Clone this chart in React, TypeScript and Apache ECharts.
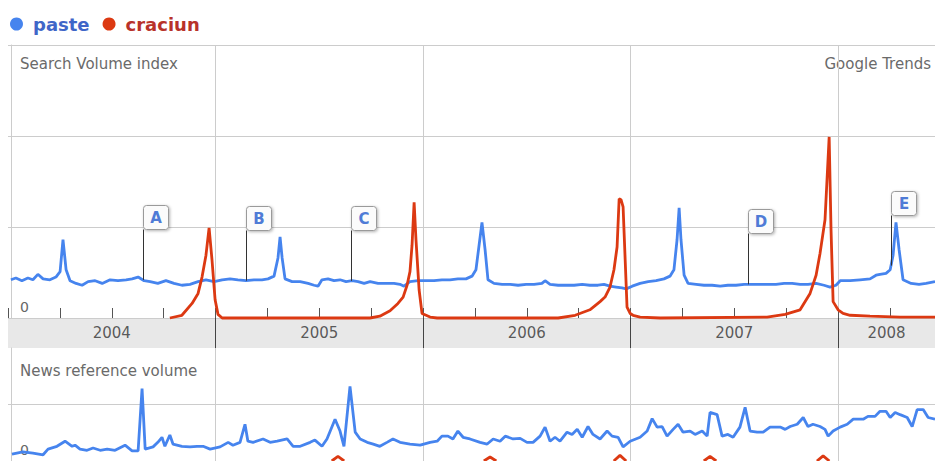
import { useEffect, useRef } from "react";
import * as echarts from "echarts";

const X_MIN = 2004;
const X_MAX = 2008.467;
const years = [2004, 2005, 2006, 2007, 2008];

// Search volume index readings [decimal year, index]
const paste: [number, number][] = [
  [2004.014,0.42],[2004.038,0.44],[2004.067,0.41],[2004.096,0.44],[2004.120,0.42],[2004.144,0.48],[2004.169,0.43],[2004.202,0.42],[2004.231,0.45],[2004.251,0.51],[2004.265,0.86],[2004.280,0.53],[2004.299,0.41],[2004.328,0.38],[2004.357,0.36],[2004.386,0.40],[2004.420,0.41],[2004.454,0.38],[2004.492,0.42],[2004.530,0.41],[2004.569,0.42],[2004.598,0.43],[2004.627,0.45],[2004.656,0.41],[2004.685,0.40],[2004.722,0.38],[2004.761,0.41],[2004.800,0.38],[2004.838,0.36],[2004.877,0.37],[2004.916,0.40],[2004.954,0.42],[2004.993,0.40],
  [2005.032,0.42],[2005.070,0.43],[2005.108,0.42],[2005.147,0.41],[2005.185,0.42],[2005.224,0.42],[2005.253,0.43],[2005.282,0.46],[2005.301,0.66],[2005.311,0.89],[2005.321,0.66],[2005.335,0.43],[2005.369,0.40],[2005.408,0.40],[2005.446,0.38],[2005.475,0.36],[2005.494,0.35],[2005.513,0.42],[2005.542,0.43],[2005.571,0.41],[2005.600,0.42],[2005.629,0.40],[2005.658,0.41],[2005.687,0.40],[2005.716,0.38],[2005.745,0.40],[2005.783,0.38],[2005.821,0.38],[2005.860,0.38],[2005.889,0.37],[2005.908,0.35],[2005.937,0.40],[2005.976,0.41],
  [2006.015,0.41],[2006.053,0.41],[2006.091,0.42],[2006.130,0.42],[2006.168,0.43],[2006.207,0.43],[2006.236,0.46],[2006.255,0.53],[2006.270,0.80],[2006.284,1.05],[2006.299,0.75],[2006.313,0.42],[2006.342,0.38],[2006.381,0.37],[2006.420,0.37],[2006.458,0.36],[2006.497,0.37],[2006.535,0.37],[2006.573,0.38],[2006.588,0.41],[2006.612,0.37],[2006.651,0.36],[2006.689,0.36],[2006.728,0.36],[2006.767,0.37],[2006.804,0.36],[2006.843,0.36],[2006.872,0.37],[2006.901,0.35],[2006.930,0.34],[2006.959,0.33],[2006.979,0.32],
  [2007.008,0.35],[2007.046,0.38],[2007.085,0.40],[2007.123,0.41],[2007.161,0.43],[2007.190,0.46],[2007.209,0.53],[2007.224,0.86],[2007.234,1.21],[2007.243,0.86],[2007.258,0.47],[2007.277,0.38],[2007.316,0.37],[2007.354,0.36],[2007.393,0.36],[2007.432,0.35],[2007.469,0.36],[2007.508,0.36],[2007.547,0.37],[2007.585,0.37],[2007.624,0.37],[2007.663,0.37],[2007.701,0.37],[2007.740,0.38],[2007.779,0.38],[2007.817,0.37],[2007.855,0.37],[2007.894,0.38],[2007.932,0.36],[2007.961,0.34],[2007.990,0.36],
  [2008.010,0.41],[2008.058,0.41],[2008.106,0.42],[2008.154,0.43],[2008.183,0.47],[2008.202,0.48],[2008.231,0.49],[2008.251,0.53],[2008.265,0.69],[2008.279,1.05],[2008.294,0.75],[2008.313,0.42],[2008.352,0.38],[2008.390,0.37],[2008.424,0.38],[2008.467,0.40],
];

const craciun: [number, number][] = [
  [2004.780,0.00],[2004.838,0.03],[2004.887,0.16],[2004.916,0.27],[2004.935,0.45],[2004.954,0.69],[2004.969,0.99],[2004.983,0.64],[2004.998,0.20],[2005.012,0.04],[2005.032,0.00],
  [2005.744,0.00],[2005.792,0.02],[2005.841,0.08],[2005.879,0.16],[2005.904,0.23],[2005.923,0.36],[2005.937,0.51],[2005.947,0.80],[2005.957,1.27],[2005.966,0.86],[2005.981,0.31],[2005.995,0.05],[2006.034,0.01],[2006.068,0.00],
  [2006.651,0.00],[2006.733,0.03],[2006.804,0.09],[2006.853,0.18],[2006.877,0.23],[2006.901,0.34],[2006.920,0.53],[2006.935,0.78],[2006.945,1.31],[2006.954,1.30],[2006.964,1.22],[2006.974,0.64],[2006.983,0.12],[2006.998,0.05],[2007.012,0.03],[2007.046,0.01],[2007.143,0.00],
  [2007.658,0.01],[2007.745,0.04],[2007.817,0.09],[2007.865,0.27],[2007.894,0.47],[2007.913,0.71],[2007.937,1.08],[2007.957,1.99],[2007.966,0.97],[2007.976,0.18],[2008.000,0.09],[2008.024,0.05],[2008.058,0.03],[2008.154,0.02],[2008.299,0.01],[2008.467,0.01],
];

// News reference volume readings
const newsPaste: [number, number][] = [
  [2004.019,0.12],[2004.072,0.16],[2004.120,0.14],[2004.169,0.11],[2004.193,0.21],[2004.236,0.26],[2004.275,0.35],[2004.309,0.26],[2004.323,0.28],[2004.347,0.21],[2004.381,0.19],[2004.410,0.23],[2004.444,0.19],[2004.478,0.21],[2004.516,0.19],[2004.564,0.28],[2004.598,0.18],[2004.627,0.18],[2004.646,1.28],[2004.661,0.21],[2004.699,0.25],[2004.722,0.33],[2004.742,0.42],[2004.756,0.26],[2004.780,0.46],[2004.795,0.30],[2004.838,0.26],[2004.877,0.25],[2004.911,0.26],[2004.940,0.26],[2004.974,0.21],
  [2005.022,0.25],[2005.061,0.33],[2005.084,0.28],[2005.118,0.33],[2005.142,0.65],[2005.156,0.35],[2005.181,0.33],[2005.229,0.39],[2005.263,0.33],[2005.297,0.35],[2005.345,0.39],[2005.374,0.26],[2005.408,0.26],[2005.456,0.33],[2005.479,0.37],[2005.513,0.26],[2005.537,0.39],[2005.576,0.74],[2005.600,0.53],[2005.619,0.26],[2005.648,1.32],[2005.673,0.51],[2005.697,0.39],[2005.731,0.33],[2005.760,0.30],[2005.792,0.26],[2005.826,0.33],[2005.855,0.39],[2005.889,0.33],[2005.937,0.30],[2005.986,0.28],
  [2006.034,0.33],[2006.068,0.35],[2006.091,0.44],[2006.120,0.44],[2006.144,0.39],[2006.168,0.53],[2006.193,0.42],[2006.226,0.39],[2006.275,0.33],[2006.309,0.30],[2006.338,0.39],[2006.371,0.35],[2006.396,0.44],[2006.434,0.39],[2006.468,0.40],[2006.501,0.33],[2006.530,0.33],[2006.564,0.44],[2006.588,0.60],[2006.612,0.35],[2006.636,0.42],[2006.660,0.35],[2006.694,0.51],[2006.718,0.47],[2006.743,0.56],[2006.767,0.42],[2006.795,0.61],[2006.819,0.47],[2006.853,0.39],[2006.887,0.53],[2006.911,0.44],[2006.940,0.42],[2006.964,0.25],[2006.998,0.35],
  [2007.046,0.42],[2007.080,0.53],[2007.104,0.75],[2007.128,0.60],[2007.152,0.61],[2007.176,0.44],[2007.205,0.56],[2007.229,0.65],[2007.253,0.51],[2007.287,0.53],[2007.311,0.47],[2007.345,0.53],[2007.369,0.44],[2007.383,0.86],[2007.417,0.82],[2007.441,0.44],[2007.469,0.47],[2007.494,0.42],[2007.527,0.60],[2007.552,0.95],[2007.576,0.53],[2007.610,0.51],[2007.639,0.51],[2007.672,0.60],[2007.721,0.60],[2007.745,0.56],[2007.769,0.61],[2007.803,0.65],[2007.832,0.77],[2007.855,0.61],[2007.879,0.65],[2007.913,0.61],[2007.937,0.56],[2007.952,0.44],[2007.976,0.53],
  [2008.010,0.60],[2008.044,0.65],[2008.073,0.74],[2008.121,0.74],[2008.144,0.79],[2008.178,0.79],[2008.202,0.88],[2008.231,0.88],[2008.251,0.77],[2008.275,0.86],[2008.299,0.82],[2008.333,0.77],[2008.357,0.61],[2008.381,0.91],[2008.410,0.91],[2008.434,0.77],[2008.467,0.74],
];

const newsCraciun: [number, number | null][] = [
  [2005.560,0],[2005.590,0.08],[2005.620,0],[2005.700,null],
  [2006.293,0],[2006.323,0.07],[2006.353,0],[2006.500,null],
  [2006.919,0],[2006.949,0.10],[2006.979,0],[2007.100,null],
  [2007.353,0],[2007.383,0.08],[2007.413,0],[2007.600,null],
  [2007.898,0],[2007.928,0.09],[2007.958,0],
];

const flagLetters = ["A", "B", "C", "D", "E"];
const flagDates = [2004.650, 2005.147, 2005.652, 2007.566, 2008.255];

const BLUE = "#4684ee";
const RED = "#dc3912";
const GRID = "#cccccc";
const TICK = "#555555";
const FONT = '"DejaVu Sans", Verdana, sans-serif';

function valueAt(series: [number, number][], t: number): number {
  for (let i = 1; i < series.length; i++) {
    const [x0, y0] = series[i - 1];
    const [x1, y1] = series[i];
    if (t >= x0 && t <= x1) return y0 + ((y1 - y0) * (t - x0)) / (x1 - x0);
  }
  return series[series.length - 1][1];
}

function buildOption(): any {
  const yearMid = years.map((y) => [
    (Math.max(y, X_MIN) + Math.min(y + 1, X_MAX)) / 2,
    0.5,
  ]);
  const flags = flagDates.map((t) => [t, valueAt(paste, t)]);

  const xBase = {
    type: "value",
    min: X_MIN,
    max: X_MAX,
    interval: 1,
    axisLabel: { show: false },
    axisLine: { show: false },
  };

  const zeroLabel = {
    inside: true,
    margin: 9,
    verticalAlign: "bottom",
    padding: [0, 0, 4, 0],
    color: "#666",
    fontSize: 14,
    fontFamily: FONT,
    formatter: (v: number) => (v === 0 ? "0" : ""),
  };

  return {
    animation: false,
    textStyle: { fontFamily: FONT },
    legend: {
      left: 5,
      top: 10,
      icon: "circle",
      itemWidth: 23,
      itemHeight: 13,
      itemGap: 13,
      selectedMode: false,
      textStyle: { fontFamily: FONT, fontWeight: "bold", fontSize: 18 },
      data: [
        { name: "paste", textStyle: { color: "#3f66c8" } },
        { name: "craciun", textStyle: { color: "#b8322a" } },
      ],
    },
    grid: [
      { left: 8, right: 0, top: 45, height: 273 },
      { left: 8, right: 0, top: 318, height: 30, show: true, backgroundColor: "#e8e8e8", borderWidth: 0 },
      { left: 8, right: 0, top: 348, height: 114 },
    ],
    xAxis: [
      {
        ...xBase,
        gridIndex: 0,
        position: "bottom",
        axisTick: { show: true, inside: true, length: 10, lineStyle: { color: TICK } },
        minorTick: { show: true, splitNumber: 4, length: 10, lineStyle: { color: TICK } },
        splitLine: { show: true, showMinLine: false, showMaxLine: false, lineStyle: { color: GRID } },
      },
      {
        ...xBase,
        gridIndex: 1,
        axisTick: { show: false },
        splitLine: { show: true, showMinLine: false, showMaxLine: false, lineStyle: { color: "#444" } },
      },
      {
        ...xBase,
        gridIndex: 2,
        position: "top",
        axisTick: { show: true, inside: true, length: 8, lineStyle: { color: TICK } },
        minorTick: { show: true, splitNumber: 4, length: 8, lineStyle: { color: TICK } },
        splitLine: { show: true, showMinLine: false, showMaxLine: false, lineStyle: { color: GRID } },
      },
    ],
    yAxis: [
      {
        gridIndex: 0,
        type: "value",
        min: 0,
        max: 3,
        interval: 1,
        offset: -3,
        axisLine: { show: true, lineStyle: { color: GRID } },
        axisTick: { show: false },
        axisLabel: zeroLabel,
        splitLine: { show: true, lineStyle: { color: GRID } },
      },
      { gridIndex: 1, type: "value", min: 0, max: 1, show: false },
      {
        gridIndex: 2,
        type: "value",
        min: 0,
        max: 2,
        interval: 1,
        offset: -3,
        axisLine: { show: true, lineStyle: { color: GRID } },
        axisTick: { show: false },
        axisLabel: zeroLabel,
        splitLine: { show: true, showMaxLine: false, lineStyle: { color: GRID } },
      },
    ],
    graphic: [
      { type: "text", x: 20, y: 64, style: { text: "Search Volume index", fill: "#6a6a6a", font: `15px ${FONT}`, verticalAlign: "middle" } },
      { type: "text", x: 931, y: 64, style: { text: "Google Trends", fill: "#6a6a6a", font: `15px ${FONT}`, align: "right", verticalAlign: "middle" } },
      { type: "text", x: 20, y: 371, style: { text: "News reference volume", fill: "#6a6a6a", font: `15px ${FONT}`, verticalAlign: "middle" } },
    ],
    series: [
      {
        name: "paste",
        type: "line",
        xAxisIndex: 0,
        yAxisIndex: 0,
        data: paste,
        color: BLUE,
        showSymbol: false,
        symbol: "none",
        lineStyle: { color: BLUE, width: 2.8 },
        z: 3,
      },
      {
        name: "craciun",
        type: "line",
        xAxisIndex: 0,
        yAxisIndex: 0,
        data: craciun,
        color: RED,
        showSymbol: false,
        symbol: "none",
        clip: false,
        lineStyle: { color: RED, width: 2.8 },
        z: 4,
      },
      {
        name: "flags",
        type: "custom",
        xAxisIndex: 0,
        yAxisIndex: 0,
        data: flags,
        z: 5,
        renderItem: (params: any, api: any) => {
          const i = params.dataIndex;
          const p = api.coord([api.value(0), api.value(1)]);
          const x = Math.round(p[0]) + 0.5;
          const yb = Math.round(p[1] - 51) + 0.5;
          return {
            type: "group",
            children: [
              { type: "line", shape: { x1: x, y1: p[1], x2: x, y2: yb }, style: { stroke: "#333", lineWidth: 1 } },
              {
                type: "rect",
                shape: { x: x, y: yb - 24, width: 25, height: 24, r: 3 },
                style: { fill: "#fbfbfb", stroke: "#9a9a9a", lineWidth: 1, shadowBlur: 3, shadowOffsetX: 1, shadowOffsetY: 1, shadowColor: "rgba(0,0,0,0.3)" },
              },
              {
                type: "text",
                style: { text: flagLetters[i], x: x + 12.5, y: yb - 12, align: "center", verticalAlign: "middle", fill: "#4f7bd6", font: `bold 15px ${FONT}` },
              },
            ],
          };
        },
      },
      {
        name: "years",
        type: "scatter",
        xAxisIndex: 1,
        yAxisIndex: 1,
        data: yearMid,
        symbolSize: 1,
        itemStyle: { color: "rgba(0,0,0,0)" },
        label: {
          show: true,
          position: "inside",
          color: "#333",
          fontSize: 15,
          fontFamily: FONT,
          formatter: (p: any) => String(years[p.dataIndex]),
        },
        z: 3,
      },
      {
        name: "paste",
        type: "line",
        xAxisIndex: 2,
        yAxisIndex: 2,
        data: newsPaste,
        color: BLUE,
        showSymbol: false,
        symbol: "none",
        lineStyle: { color: BLUE, width: 2.8 },
        z: 3,
      },
      {
        name: "craciun",
        type: "line",
        xAxisIndex: 2,
        yAxisIndex: 2,
        data: newsCraciun,
        color: RED,
        showSymbol: false,
        symbol: "none",
        clip: false,
        connectNulls: false,
        lineStyle: { color: RED, width: 2.8 },
        z: 2,
      },
    ],
  };
}

export default function App() {
  const ref = useRef<HTMLDivElement>(null);
  useEffect(() => {
    document.body.style.margin = "0";
    const chart = echarts.init(ref.current as HTMLDivElement, null, { renderer: "svg" });
    chart.setOption(buildOption());
    return () => chart.dispose();
  }, []);
  return <div ref={ref} style={{ width: 935, height: 461 }} />;
}
